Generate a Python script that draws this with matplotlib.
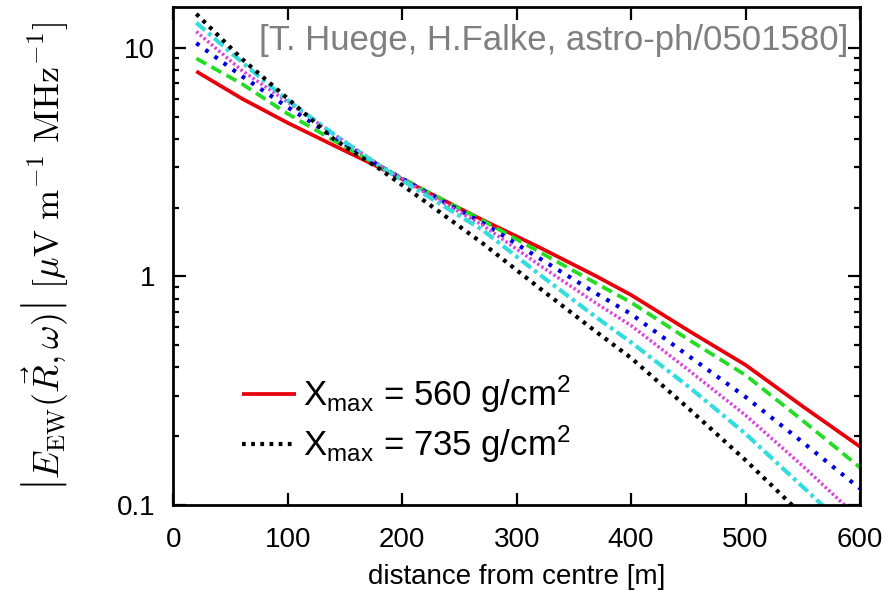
import matplotlib
matplotlib.use("Agg")
import matplotlib.pyplot as plt
from matplotlib import ticker

plt.rcParams['font.family'] = ['Liberation Sans', 'DejaVu Sans']
plt.rcParams['mathtext.fontset'] = 'custom'
plt.rcParams['mathtext.rm'] = 'Liberation Sans'
plt.rcParams['mathtext.it'] = 'Liberation Sans:italic'
plt.rcParams['mathtext.bf'] = 'Liberation Sans:bold'

# radial distance [m] and field strength [muV/m/MHz] for Xmax = 560 ... 735 g/cm^2
dist = [20, 60, 100, 140, 180, 220, 270, 320, 370, 400, 450, 500, 550, 600]
e_560 = [7.9, 6.0, 4.7, 3.75, 3.0, 2.37, 1.77, 1.34, 1.0, 0.83, 0.58, 0.41, 0.27, 0.18]
e_595 = [9.0, 6.96, 5.15, 3.94, 3.05, 2.38, 1.76, 1.28, 0.93, 0.77, 0.53, 0.37, 0.234, 0.146]
e_630 = [10.5, 7.52, 5.5, 4.1, 3.05, 2.35, 1.72, 1.2, 0.84, 0.685, 0.45, 0.297, 0.188, 0.118]
e_665 = [11.8, 7.96, 5.79, 4.2, 3.08, 2.33, 1.68, 1.12, 0.76, 0.61, 0.39, 0.247, 0.148, 0.0865]
e_700 = [12.9, 8.66, 5.89, 4.2, 3.05, 2.28, 1.6, 1.02, 0.66, 0.515, 0.33, 0.205, 0.12, 0.07]
e_735 = [14.1, 8.95, 6.0, 4.0, 2.96, 2.13, 1.40, 0.889, 0.57, 0.44, 0.265, 0.157, 0.09, 0.052]

fig = plt.figure(figsize=(8.92, 5.92), dpi=100)
ax = fig.add_axes([0.1944, 0.147, 0.7697, 0.841])

lw = 2.7
ax.plot(dist, e_560, color='#e8000b', lw=lw, solid_capstyle='butt',
        label=r'X$_{\rm max}$ = 560 g/cm$^{2}$')
ax.plot(dist, e_595, color='#22dd22', lw=lw, dashes=(3.0, 1.6))
ax.plot(dist, e_630, color='#0000dd', lw=lw + 0.3, dashes=(0.9, 1.8))
ax.plot(dist, e_665, color='#dd44dd', lw=lw - 0.2, dashes=(0.7, 0.7))
ax.plot(dist, e_700, color='#33dddd', lw=lw + 0.3, dashes=(2.8, 1.0, 0.9, 1.0))
ax.plot(dist, e_735, color='black', lw=lw + 0.3, dashes=(0.9, 1.3),
        label=r'X$_{\rm max}$ = 735 g/cm$^{2}$')

ax.set_yscale('log')
ax.set_xlim(0, 600)
ax.set_ylim(0.1, 15.1)
ax.set_xticks([0, 100, 200, 300, 400, 500, 600])
ax.yaxis.set_major_formatter(ticker.FuncFormatter(lambda v, _: f'{v:g}'))
ax.yaxis.set_minor_formatter(ticker.NullFormatter())
ax.tick_params(which='both', direction='in', top=True, right=True, width=1.6,
               labelsize=20)
ax.tick_params(axis='x', pad=16)
ax.tick_params(axis='y', pad=13)
ax.tick_params(which='major', length=9)
ax.tick_params(which='minor', length=4.5)
for s in ax.spines.values():
    s.set_linewidth(2.0)

ax.set_xlabel('distance from centre [m]', fontsize=20, labelpad=8)
ylab = ax.set_ylabel(r'$\left|E_{\rm EW}(\vec{R},\omega)\right|\ [\mu{\rm V\ m^{-1}\ MHz^{-1}}]$',
                     fontsize=26, labelpad=34)
ylab.set_math_fontfamily('cm')

ax.text(0.983, 0.932, '[T. Huege, H.Falke, astro-ph/0501580]', transform=ax.transAxes,
        ha='right', va='center', fontsize=25, color='#7f7f7f')

leg = ax.legend(loc='upper left', bbox_to_anchor=(0.08, 0.292), frameon=False,
                fontsize=25, handlelength=1.55, handletextpad=0.2,
                labelspacing=0.25, borderaxespad=0)

fig.savefig('out.png', dpi=100)
